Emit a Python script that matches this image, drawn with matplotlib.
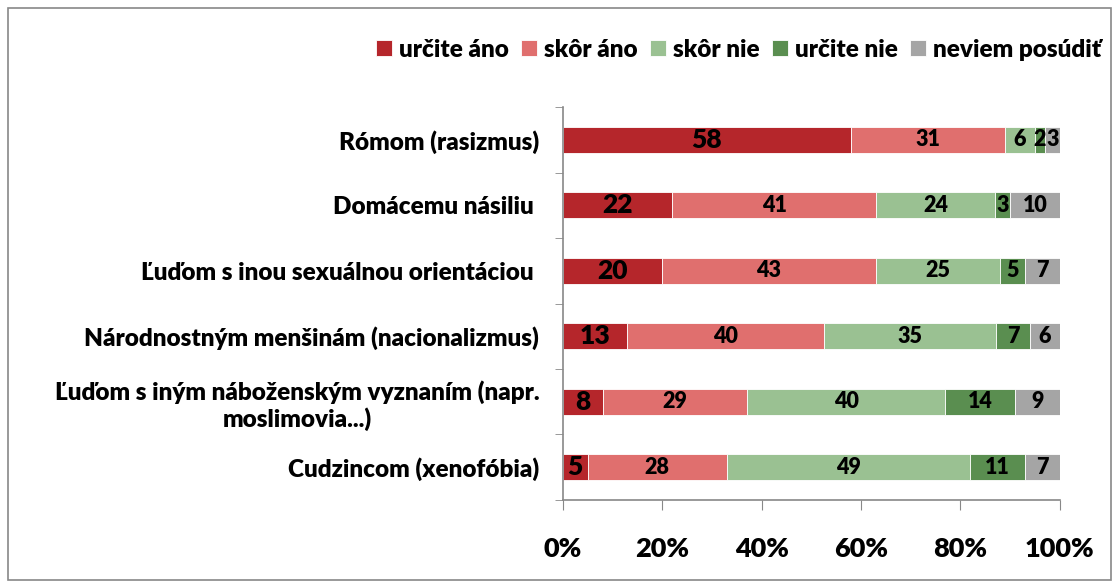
import numpy as np
import matplotlib.pyplot as plt
from matplotlib.patches import Rectangle

plt.rcParams['font.family'] = ['Lato', 'DejaVu Sans']
plt.rcParams['font.weight'] = 'heavy'

categories = [
    'Rómom (rasizmus)',
    'Domácemu násiliu ',
    'Ľuďom s inou sexuálnou orientáciou ',
    'Národnostným menšinám (nacionalizmus)',
    'Ľuďom s iným náboženským vyznaním (napr.\nmoslimovia...)',
    'Cudzincom (xenofóbia)',
]
series = ['určite áno', 'skôr áno', 'skôr nie', 'určite nie', 'neviem posúdiť']
urcite_ano = [58, 22, 20, 13, 8, 5]
skor_ano = [31, 41, 43, 40, 29, 28]
skor_nie = [6, 24, 25, 35, 40, 49]
urcite_nie = [2, 3, 5, 7, 14, 11]
neviem = [3, 10, 7, 6, 9, 7]
colors = ['#B5262B', '#E06F6E', '#9AC192', '#5A8E50', '#A5A5A5']

data = np.array([urcite_ano, skor_ano, skor_nie, urcite_nie, neviem], dtype=float)
shares = data / data.sum(axis=0) * 100

fig = plt.figure(figsize=(11.19, 5.86), dpi=100)
ax = fig.add_axes([0.503, 0.147, 0.444, 0.670])

y = np.arange(len(categories))
left = np.zeros(len(categories))
for i, name in enumerate(series):
    bars = ax.barh(y, shares[i], left=left, height=0.4, color=colors[i],
                   label=name, edgecolor='white', linewidth=0.6)
    for j, b in enumerate(bars):
        size = 19 if i == 0 else 15.5
        ax.text(left[j] + shares[i][j] / 2, y[j], str(int(data[i][j])),
                ha='center', va='center', fontsize=size)
    left += shares[i]

ax.set_xlim(0, 100)
ax.set_ylim(len(categories) - 0.5, -0.5)
ax.set_xticks(np.arange(0, 101, 20))
ax.set_xticklabels([f'{v}%' for v in range(0, 101, 20)], fontsize=19.5)
ax.set_yticks(y)
ax.set_yticklabels(categories, fontsize=17.5, ha='right', multialignment='center')
ax.set_yticks(np.arange(-0.5, len(categories)), minor=True)
ax.tick_params(axis='y', which='major', length=0, pad=17)
ax.tick_params(axis='y', which='minor', length=6, color='#888888')
ax.tick_params(axis='x', length=7, color='#888888', pad=20)
for s in ['top', 'right']:
    ax.spines[s].set_visible(False)
for s in ['left', 'bottom']:
    ax.spines[s].set_color('#888888')
    ax.spines[s].set_linewidth(1.2)

fig.legend(loc='center', bbox_to_anchor=(0.66, 0.915), ncol=5, frameon=False,
           fontsize=17.5, handlelength=0.65, handleheight=0.65, handletextpad=0.3,
           columnspacing=0.5)

fig.patches.append(Rectangle((0.007, 0.01), 0.986, 0.976, transform=fig.transFigure,
                             fill=False, edgecolor='#888888', linewidth=1.2))

fig.savefig('out.png', dpi=100)
